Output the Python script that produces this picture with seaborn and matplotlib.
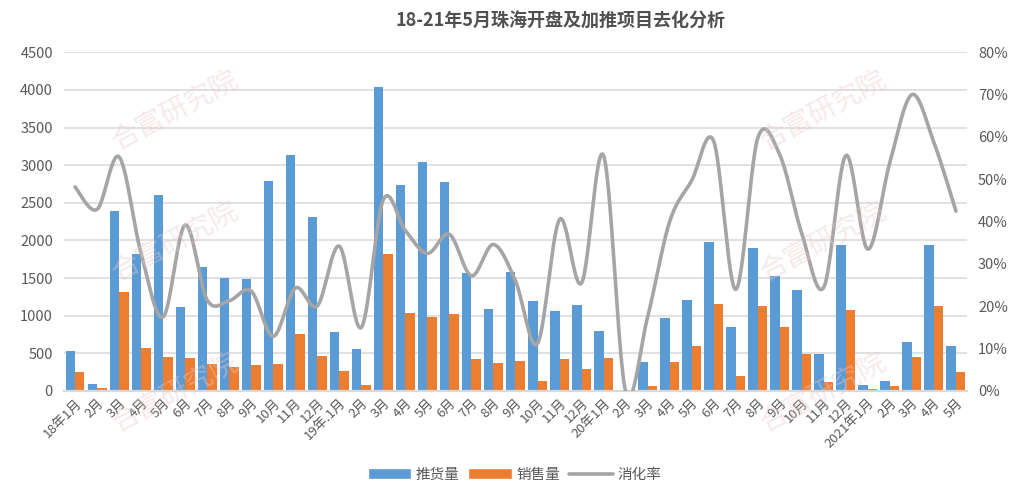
import numpy as np
import pandas as pd
import matplotlib
matplotlib.use("Agg")
import matplotlib.pyplot as plt
import seaborn as sns
from matplotlib.patches import Patch
from matplotlib.lines import Line2D
from matplotlib.ticker import FuncFormatter

# ---------------- data ----------------
months = ["18年1月", "2月", "3月", "4月", "5月", "6月", "7月", "8月", "9月", "10月", "11月", "12月",
          "19年.1月", "2月", "3月", "4月", "5月", "6月", "7月", "8月", "9月", "10月", "11月", "12月",
          "20年1月", "2月", "3月", "4月", "5月", "6月", "7月", "8月", "9月", "10月", "11月", "12月",
          "2021年1月", "2月", "3月", "4月", "5月"]

supply = [531, 93, 2391, 1820, 2604, 1116, 1647, 1501, 1488, 2790, 3135, 2312,
          784, 558, 4039, 2737, 3043, 2777, 1568, 1089, 1581, 1196, 1063, 1143,
          797, 0, 385, 970, 1209, 1980, 850, 1900, 1528, 1342, 492, 1940,
          80, 133, 651, 1940, 598]

sales = [252, 40, 1315, 571, 452, 438, 359, 319, 345, 359, 757, 465,
         266, 80, 1820, 1036, 983, 1023, 425, 372, 399, 133, 425, 292,
         438, 0, 66, 385, 598, 1156, 199, 1129, 850, 492, 120, 1076,
         27, 70, 452, 1129, 252]

rate = [0.482, 0.429, 0.553, 0.325, 0.175, 0.392, 0.215, 0.213, 0.236, 0.129, 0.243, 0.201,
        0.342, 0.150, 0.452, 0.379, 0.325, 0.370, 0.272, 0.346, 0.260, 0.112, 0.405, 0.255,
        0.556, 0.0, 0.175, 0.400, 0.497, 0.590, 0.240, 0.597, 0.558, 0.372, 0.245, 0.556,
        0.335, 0.540, 0.700, 0.587, 0.425]

series_names = ["推货量", "销售量", "消化率"]
colors = ["#5B9BD5", "#ED7D31", "#A5A5A5"]
title = "18-21年5月珠海开盘及加推项目去化分析"

# ---------------- style ----------------
sns.set_theme(style="white")
plt.rcParams["font.family"] = ["Noto Sans CJK SC", "DejaVu Sans"]
txt_color = "#595959"

fig = plt.figure(figsize=(10.29, 5.03), dpi=100)
ax = fig.add_axes([0.0622, 0.2227, 0.8775, 0.6733])

keys = [f"k{i:02d}" for i in range(len(months))]
df = pd.DataFrame({
    "key": keys * 2,
    "value": supply + sales,
    "series": [series_names[0]] * len(keys) + [series_names[1]] * len(keys),
})
sns.barplot(data=df, x="key", y="value", hue="series", order=keys,
            hue_order=series_names[:2], palette=colors[:2], width=0.86,
            saturation=1, ax=ax, legend=False, linewidth=0)

ax.set_ylim(0, 4500)
ax.set_xlim(-0.5, len(months) - 0.5)
ax.set_yticks(np.arange(0, 4501, 500))
ax.yaxis.grid(True, color="#D9D9D9", linewidth=1.1)
ax.set_axisbelow(True)
for s in ["top", "right", "left"]:
    ax.spines[s].set_visible(False)
ax.spines["bottom"].set_color("#D9D9D9")
ax.spines["bottom"].set_linewidth(1.6)
ax.set_xlabel("")
ax.set_ylabel("")
ax.tick_params(axis="both", length=0, colors=txt_color)
ax.tick_params(axis="y", labelsize=10.5, pad=8)
ax.set_xticks(range(len(months)))
ax.set_xticklabels(months, rotation=45, ha="right", rotation_mode="anchor",
                   fontsize=9.5, color=txt_color)
ax.tick_params(axis="x", pad=4)

# ---------------- smoothed rate line ----------------
ax2 = ax.twinx()
x = np.arange(len(rate), dtype=float)
y = np.array(rate)
px, py = [], []
n = len(x)
for i in range(n - 1):
    p0 = np.array([x[max(i - 1, 0)], y[max(i - 1, 0)]])
    p1 = np.array([x[i], y[i]])
    p2 = np.array([x[i + 1], y[i + 1]])
    p3 = np.array([x[min(i + 2, n - 1)], y[min(i + 2, n - 1)]])
    c1 = p1 + (p2 - p0) / 6.0
    c2 = p2 - (p3 - p1) / 6.0
    t = np.linspace(0, 1, 30)[:, None]
    pts = ((1 - t) ** 3) * p1 + 3 * ((1 - t) ** 2) * t * c1 + 3 * (1 - t) * t ** 2 * c2 + t ** 3 * p2
    px.extend(pts[:, 0]); py.extend(pts[:, 1])
ax2.plot(px, py, color=colors[2], linewidth=2.6, solid_capstyle="round", zorder=5)
ax2.set_ylim(0, 0.8)
ax2.set_yticks(np.arange(0, 0.81, 0.1))
ax2.yaxis.set_major_formatter(FuncFormatter(lambda v, p: f"{v*100:.0f}%"))
ax2.tick_params(axis="y", length=0, colors=txt_color, labelsize=10.5, pad=8)
for s in ["top", "right", "left", "bottom"]:
    ax2.spines[s].set_visible(False)
ax2.grid(False)

# ---------------- title & legend ----------------
fig.text(0.545, 0.958, title, ha="center", va="center", fontsize=13,
         fontweight="bold", color="#505050")

handles = [Patch(facecolor=colors[0]), Patch(facecolor=colors[1]),
           Line2D([0], [0], color=colors[2], linewidth=2.6)]
leg = fig.legend(handles, series_names, loc="center", bbox_to_anchor=(0.5, 0.056),
                 ncol=3, frameon=False, fontsize=10.5, handlelength=3.0,
                 handleheight=0.8, columnspacing=0.6, handletextpad=0.3)
for t in leg.get_texts():
    t.set_color(txt_color)

# ---------------- watermark ----------------
for (wx, wy) in [(0.17, 0.78), (0.17, 0.52), (0.17, 0.22), (0.80, 0.78), (0.80, 0.52), (0.80, 0.22)]:
    fig.text(wx, wy, "合富研究院", fontsize=20, color="#E9C9C9", alpha=0.4,
             rotation=28, ha="center", va="center", zorder=0)

fig.savefig("out.png", dpi=100)
